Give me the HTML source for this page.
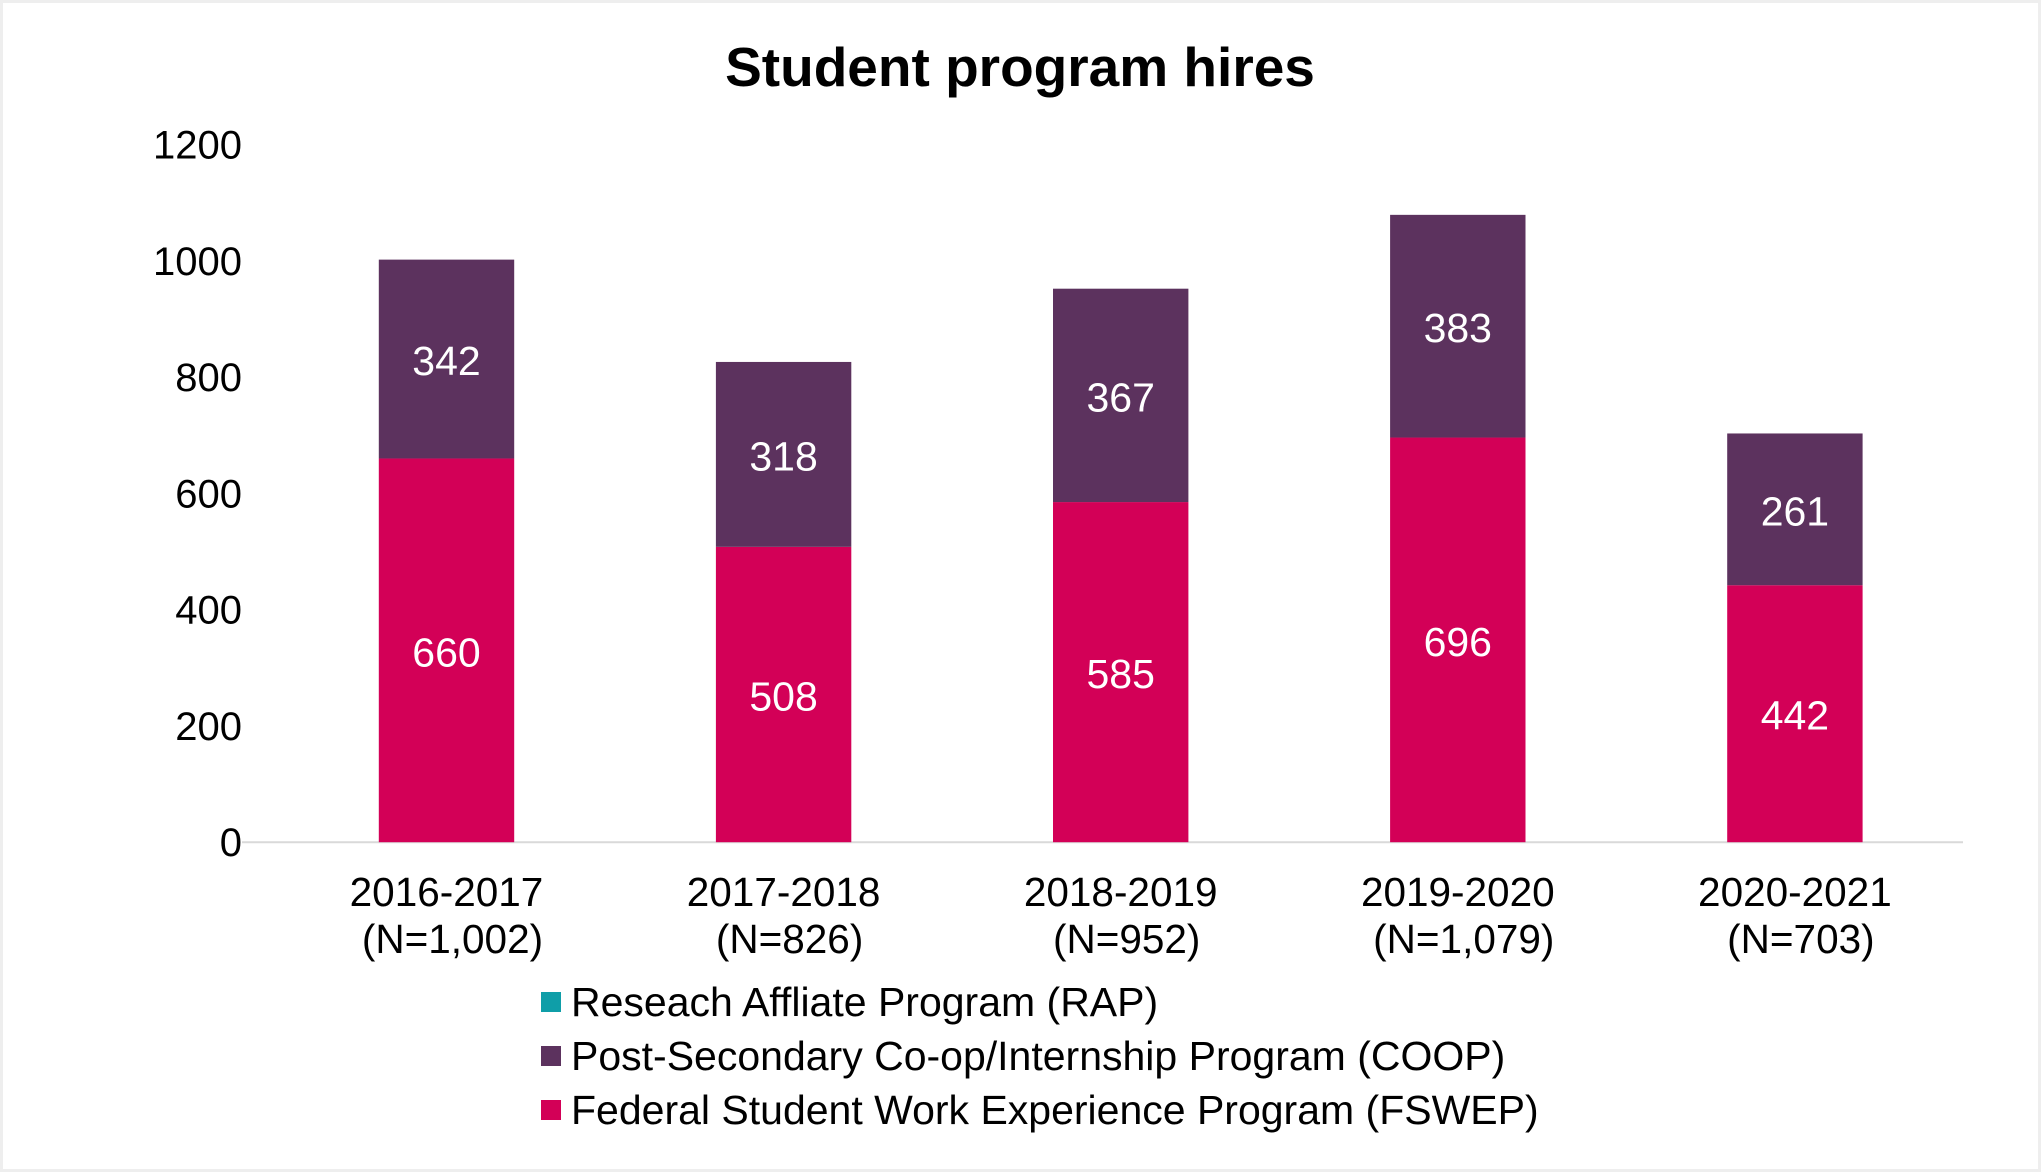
<!DOCTYPE html>
<html><head><meta charset="utf-8"><style>
html,body{margin:0;padding:0;background:#fff}
svg{display:block}
text{font-family:"Liberation Sans",Arial,sans-serif}
</style></head><body>
<svg id="chart" width="2041" height="1172" xmlns="http://www.w3.org/2000/svg">
<rect x="1.5" y="1.5" width="2038" height="1169" fill="#fff" stroke="#eeeeee" stroke-width="3"/>
<text x="1020" y="86" text-anchor="middle" font-size="55" font-weight="bold" fill="#000">Student program hires</text>
<g id="plot"></g>
<g>
<rect x="541" y="992" width="20" height="20" fill="#0f9ea8"/>
<text x="571" y="1016" font-size="41" fill="#000">Reseach Affliate Program (RAP)</text>
<rect x="541" y="1046" width="20" height="20" fill="#5c325e"/>
<text x="571" y="1070" font-size="41" fill="#000">Post-Secondary Co-op/Internship Program (COOP)</text>
<rect x="541" y="1100" width="20" height="20" fill="#d30057"/>
<text x="571" y="1124" font-size="41" fill="#000">Federal Student Work Experience Program (FSWEP)</text>
</g>
</svg>
<script>
const categories = ["2016-2017", "2017-2018", "2018-2019", "2019-2020", "2020-2021"];
const nLabels = ["(N=1,002)", "(N=826)", "(N=952)", "(N=1,079)", "(N=703)"];
const fswep = [660, 508, 585, 696, 442];
const coop = [342, 318, 367, 383, 261];
const rap = [0, 0, 0, 0, 0];
const yTicks = [0, 200, 400, 600, 800, 1000, 1200];

const NS = "http://www.w3.org/2000/svg";
const plot = document.getElementById("plot");
const y0 = 842.2, yTop = 144.5, yMax = 1200;
const xLeft = 242, xRight = 1963;
const firstCenter = 446.5, step = 337.1, barW = 135.4;
function yScale(v){ return y0 - (v / yMax) * (y0 - yTop); }
function xScale(i){ return firstCenter + i * step; }
function mk(tag, attrs, txt){
  const e = document.createElementNS(NS, tag);
  for (const k in attrs) e.setAttribute(k, attrs[k]);
  if (txt !== undefined) e.textContent = txt;
  plot.appendChild(e);
  return e;
}
yTicks.forEach(t => {
  const el = mk("text", {x: xLeft, y: yScale(t) + 14, "text-anchor": "end", "font-size": 40, fill: "#000"}, String(t));
  
  
});
const axis = mk("line", {x1: xLeft, y1: y0, x2: xRight, y2: y0, stroke: "#d9d9d9", "stroke-width": 2});


categories.forEach((c, i) => {
  const cx = xScale(i);
  const f = fswep[i], p = coop[i], r = rap[i];
  const b1 = mk("rect", {x: cx - barW/2, y: yScale(f), width: barW, height: y0 - yScale(f), fill: "#d30057"});
  
  
  const b2 = mk("rect", {x: cx - barW/2, y: yScale(f + p), width: barW, height: yScale(f) - yScale(f + p), fill: "#5c325e"});
  
  
  if (r > 0) {
    const b3 = mk("rect", {x: cx - barW/2, y: yScale(f + p + r), width: barW, height: yScale(f + p) - yScale(f + p + r), fill: "#0f9ea8"});
    
    
  }
  const l1 = mk("text", {x: cx, y: (yScale(f) + y0)/2 + 16, "text-anchor": "middle", "font-size": 41, fill: "#fff"}, String(f));
  
  
  const l2 = mk("text", {x: cx, y: (yScale(f) + yScale(f + p))/2 + 16, "text-anchor": "middle", "font-size": 41, fill: "#fff"}, String(p));
  
  
  const c1 = mk("text", {x: cx, y: 906, "text-anchor": "middle", "font-size": 40.5, fill: "#000"}, c);
  
  
  const c2 = mk("text", {x: cx + 6, y: 953, "text-anchor": "middle", "font-size": 40.5, fill: "#000"}, nLabels[i]);
  
  
});
</script>
</body></html>
